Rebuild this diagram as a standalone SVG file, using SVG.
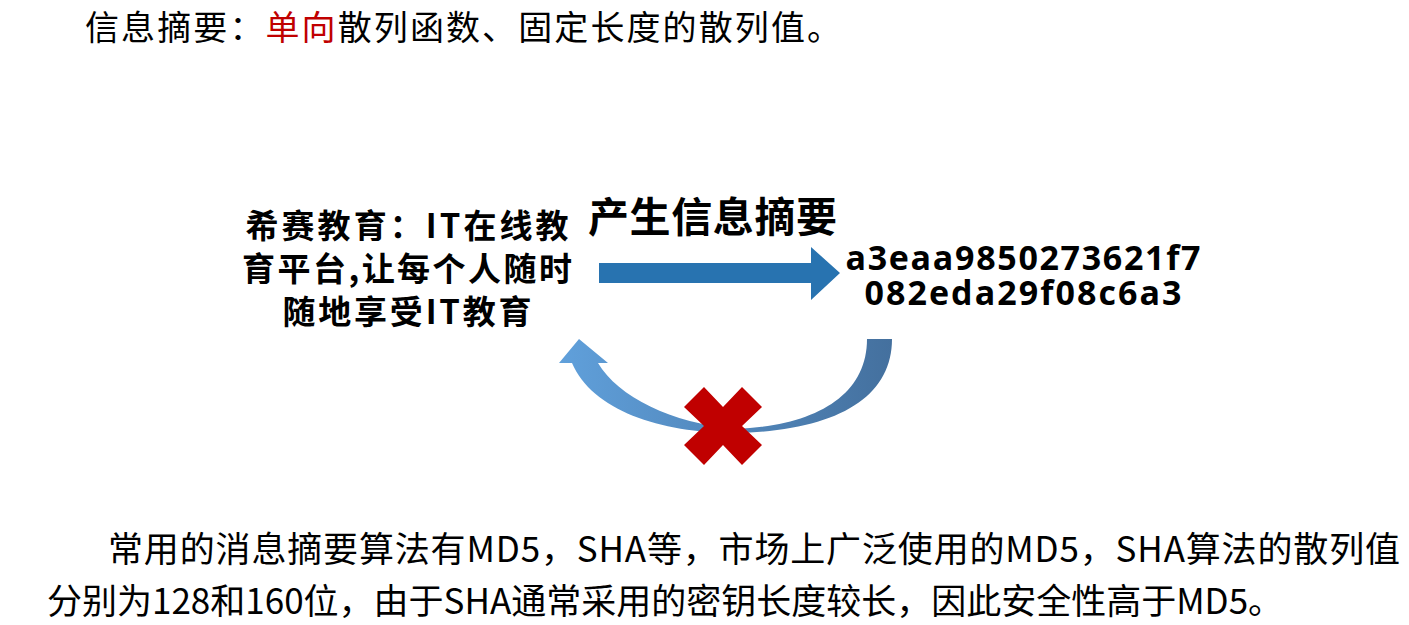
<svg xmlns="http://www.w3.org/2000/svg" width="1409" height="625" viewBox="0 0 1409 625">
  <style>
    .t { font-family: "Noto Sans CJK SC", "Noto Sans", sans-serif; fill: #000; }
    .title { font-size: 34px; font-weight: 400; }
    .red { fill: #c00000; }
    .bold { font-weight: 700; }
    .src { font-size: 33px; }
    .lbl { font-size: 41px; }
    .hash { font-family: "Open Sans", "DejaVu Sans", sans-serif; font-size: 34px; font-weight: 700; fill: #000; }
    .body { font-size: 35px; font-weight: 400; }
  </style>
  <defs>
    <linearGradient id="curveGrad" x1="0" y1="0" x2="1" y2="0">
      <stop offset="0" stop-color="#60a0db"/>
      <stop offset="1" stop-color="#44709e"/>
    </linearGradient>
  </defs>
  <rect width="1409" height="625" fill="#ffffff"/>

  <g id="title">
    <text class="t title" x="85" y="40" textLength="756">信息摘要：<tspan class="red">单向</tspan>散列函数、固定长度的散列值。</text>
  </g>

  <g id="source">
    <text class="t bold src" text-anchor="middle" x="407" y="238" textLength="323">希赛教育：IT在线教</text>
    <text class="t bold src" text-anchor="middle" x="407" y="281" textLength="330">育平台,让每个人随时</text>
    <text class="t bold src" text-anchor="middle" x="407" y="324" textLength="249">随地享受IT教育</text>
  </g>

  <g id="digest">
    <text class="hash" text-anchor="middle" x="1023" y="270" textLength="355">a3eaa9850273621f7</text>
    <text class="hash" text-anchor="middle" x="1023" y="305" textLength="317">082eda29f08c6a3</text>
  </g>

  <g id="connectors">
    <g id="forward">
      <polygon points="599,263 811,263 811,247 840,273 811,300 811,283 599,283" fill="#2873b0"/>
      <text class="t bold lbl" x="588" y="232" textLength="249">产生信息摘要</text>
    </g>
    <g id="reverse">
      <path d="M 867 339 L 892 339 C 892 398 836 431 735 433 C 660 433 592 410 572 363 L 559 363 L 579 339 L 608 363 L 598 363 C 618 397 672 423 735 429 C 815 426 867 396 867 339 Z" fill="url(#curveGrad)"/>
      <polygon points="684,407 704,387 723,407 742,387 762,407 742,426 762,445 742,465 723,445 704,465 684,445 704,426" fill="#c00000"/>
    </g>
  </g>

  <g id="note">
    <text class="t body" x="108" y="562" textLength="1292">常用的消息摘要算法有MD5，SHA等，市场上广泛使用的MD5，SHA算法的散列值</text>
    <text class="t body" x="47" y="614">分别为128和160位，由于SHA通常采用的密钥长度较长，因此安全性高于MD5。</text>
  </g>
</svg>
